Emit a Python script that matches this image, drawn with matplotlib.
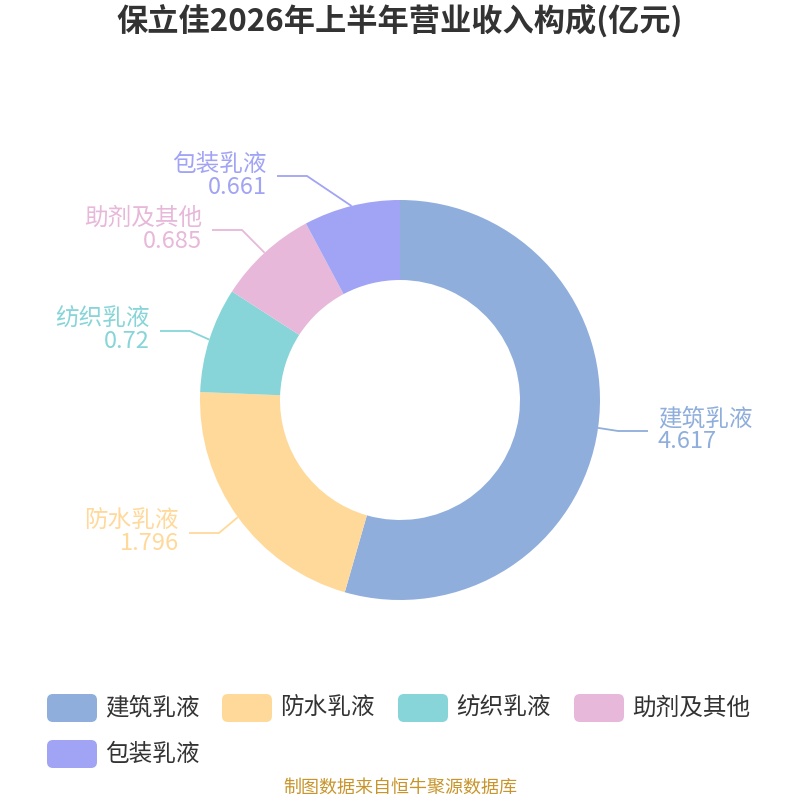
import numpy as np
import matplotlib.pyplot as plt
from matplotlib.patches import FancyBboxPatch

plt.rcParams['font.family'] = ['Noto Sans CJK SC', 'DejaVu Sans']

# --- data ---
title = "保立佳2026年上半年营业收入构成(亿元)"
categories = ["建筑乳液", "防水乳液", "纺织乳液", "助剂及其他", "包装乳液"]
values = [4.617, 1.796, 0.72, 0.685, 0.661]
value_labels = ["4.617", "1.796", "0.72", "0.685", "0.661"]
colors = ["#8FAEDB", "#FFD99A", "#87D5D8", "#E7B8D9", "#A1A3F5"]
source = "制图数据来自恒牛聚源数据库"

# --- layout (pixel units, y measured from top) ---
W = H = 800
CX, CY = 400, 400
R_OUT, R_IN = 200, 120
# label line y positions (moved by the layout to avoid overlaps)
label_y = [431, 533, 331, 230, 176]
kink_x = [618, 219, 190, 242, 307]
LEN2 = 30


def py(y):
    return H - y


fig = plt.figure(figsize=(8, 8), dpi=100)
ax = fig.add_axes([0, 0, 1, 1])

ax.pie(values, colors=colors, startangle=90, counterclock=False,
       radius=R_OUT, center=(CX, py(CY)),
       wedgeprops=dict(width=R_OUT - R_IN, linewidth=0))

# leader lines + labels
total = sum(values)
start = 0.0
for i, (name, v) in enumerate(zip(categories, values)):
    mid = start + v / 2
    start += v
    ang = np.deg2rad(90 - 360 * mid / total)
    sx = CX + R_OUT * np.cos(ang)
    sy = CY - R_OUT * np.sin(ang)
    kx, ky = kink_x[i], label_y[i]
    right = np.cos(ang) > 0
    ex = kx + LEN2 if right else kx - LEN2
    ax.plot([sx, kx, ex], [py(sy), py(ky), py(ky)], color=colors[i], lw=1.3,
            solid_capstyle='butt')
    tx = ex + 10 if right else ex - 10
    ha = 'left' if right else 'right'
    ax.text(tx, py(ky - 12), name, color=colors[i], fontsize=17, ha=ha, va='center')
    ax.text(tx, py(ky + 11), value_labels[i], color=colors[i], fontsize=17, ha=ha, va='center')

# title and source
ax.text(400, py(22), title, fontsize=22.5, fontweight='bold', color='#333333',
        ha='center', va='center')
ax.text(400, py(788), source, fontsize=13, color='#C8952C', ha='center', va='center')

# legend
leg_x = [47, 222, 398, 574, 47]
leg_y = [708, 708, 708, 708, 754]
for i, name in enumerate(categories):
    box = FancyBboxPatch((leg_x[i], py(leg_y[i] + 14)), 50, 28,
                         boxstyle="round,pad=0,rounding_size=6",
                         facecolor=colors[i], edgecolor='none')
    ax.add_patch(box)
    ax.text(leg_x[i] + 58, py(leg_y[i]), name, fontsize=17, color='#333333',
            ha='left', va='center')

ax.set_xlim(0, W)
ax.set_ylim(0, H)
ax.set_aspect('auto')
ax.axis('off')

fig.savefig("out.png", dpi=100, facecolor='white')
